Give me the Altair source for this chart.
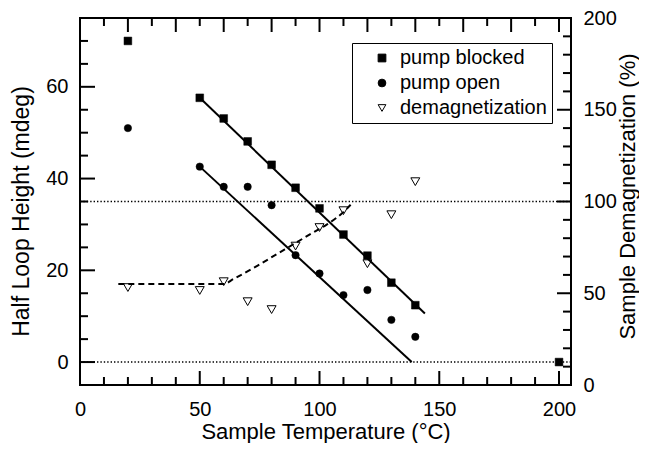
import altair as alt
import pandas as pd

# ---------------- data ----------------
temps_blocked = [20, 50, 60, 70, 80, 90, 100, 110, 120, 130, 140, 200]
loop_blocked = [70.0, 57.6, 53.1, 48.1, 43.0, 38.0, 33.5, 27.8, 23.2, 17.3, 12.4, 0.0]

temps_open = [20, 50, 60, 70, 80, 90, 100, 110, 120, 130, 140]
loop_open = [51.0, 42.6, 38.2, 38.2, 34.2, 23.3, 19.3, 14.6, 15.7, 9.2, 5.5]

temps_demag = [20, 50, 60, 70, 80, 90, 100, 110, 120, 130, 140]
demag_pct = [53.1, 51.5, 56.3, 45.4, 41.1, 75.7, 85.8, 95.0, 66.1, 92.8, 110.8]

fit_blocked_t = [50, 144]
fit_blocked_v = [57.6, 10.6]
fit_open_t = [50, 138.5]
fit_open_v = [42.6, 0.0]

guide_t = [16, 60, 64, 74, 82, 89, 97, 103, 111, 113]
guide_p = [55.0, 55.0, 57.7, 64.9, 71.2, 76.6, 82.9, 87.4, 95.5, 98.2]

ref_levels_left = [0, 35]

series_names = ["pump blocked", "pump open", "demagnetization"]
series_shapes = ["square", "circle", "triangle-down"]
series_fills = ["black", "black", "white"]
series_strokes = ["black", "black", "black"]

x_labels = [0, 50, 100, 150, 200]
x_minor = [10, 20, 30, 40, 60, 70, 80, 90, 110, 120, 130, 140, 160, 170, 180, 190]
top_major = [20, 40, 60, 80, 100, 120, 140, 160, 180, 200]
top_minor = [10, 30, 50, 70, 90, 110, 130, 150, 170, 190]
left_labels = [0, 20, 40, 60]
left_minor = [5, 10, 15, 25, 30, 35, 45, 50, 55, 65, 70]
right_labels = [0, 50, 100, 150, 200]
right_major = [50, 100, 150]
right_minor = [10, 20, 30, 40, 60, 70, 80, 90, 110, 120, 130, 140, 160, 170, 180, 190]

# ---------------- chart ----------------
W, H = 491, 367
FONT = "Liberation Sans"
MAJ, MIN = 14, 8

xscale = alt.Scale(domain=[0, 205], nice=False, zero=False)
yl = alt.Scale(domain=[-5, 75], nice=False, zero=False)
yr = alt.Scale(domain=[0, 200], nice=False, zero=False)
shape_scale = alt.Scale(domain=series_names, range=series_shapes)
fill_scale = alt.Scale(domain=series_names, range=series_fills)
stroke_scale = alt.Scale(domain=series_names, range=series_strokes)

legend = alt.Legend(
    title=None, orient="none", legendX=272, legendY=25,
    strokeColor="black", padding=5, rowPadding=5,
    labelFont=FONT, labelFontSize=20, labelColor="black", labelOffset=8,
    symbolSize=60, symbolStrokeWidth=1, symbolOffset=15,
)

x_axis = alt.Axis(values=x_labels, title="Sample Temperature (°C)",
                  labelPadding=14, titleY=36, titleFontSize=22, labelFlush=False)
left_axis = alt.Axis(values=left_labels, title="Half Loop Height (mdeg)",
                     orient="left", labelPadding=12, titlePadding=12,
                     titleFontSize=23, titleBaseline="bottom", titleY=193,
                     labelFlush=False)
right_axis = alt.Axis(values=right_labels, title="Sample Demagnetization (%)",
                      orient="right", labelPadding=12, titlePadding=1,
                      titleFontSize=22, titleAngle=270, titleBaseline="top",
                      titleY=178, labelFlush=False)


def X():
    return alt.X("t:Q", scale=xscale, axis=x_axis)


def xticks(vals, length, top=False):
    df = pd.DataFrame({"t": vals})
    y0, y1 = (0, length) if top else (H, H - length)
    return alt.Chart(df).mark_rule(color="black", strokeWidth=2).encode(
        x=X(), y=alt.value(y0), y2=alt.value(y1))


def yticks(vals, length, scale, right=False):
    df = pd.DataFrame({"v": vals})
    x0, x1 = (W, W - length) if right else (0, length)
    return alt.Chart(df).mark_rule(color="black", strokeWidth=2).encode(
        y=alt.Y("v:Q", scale=scale, axis=None), x=alt.value(x0), x2=alt.value(x1))


dotted = alt.Chart(pd.DataFrame({"v": ref_levels_left})).mark_rule(
    color="black", strokeWidth=1.5, strokeDash=[1.4, 2]).encode(
    y=alt.Y("v:Q", scale=yl, axis=None), x=alt.value(0), x2=alt.value(W))

fit_b = alt.Chart(pd.DataFrame({"t": fit_blocked_t, "v": fit_blocked_v})).mark_line(
    color="black", strokeWidth=2).encode(
    x=X(), y=alt.Y("v:Q", scale=yl, axis=None))
fit_o = alt.Chart(pd.DataFrame({"t": fit_open_t, "v": fit_open_v})).mark_line(
    color="black", strokeWidth=2).encode(
    x=X(), y=alt.Y("v:Q", scale=yl, axis=None))
guide = alt.Chart(pd.DataFrame({"t": guide_t, "p": guide_p})).mark_line(
    color="black", strokeWidth=2, strokeDash=[6, 4], interpolate="monotone").encode(
    x=X(), y=alt.Y("p:Q", scale=yr, axis=None))

df_b = pd.DataFrame({"t": temps_blocked, "v": loop_blocked, "series": "pump blocked"})
df_o = pd.DataFrame({"t": temps_open, "v": loop_open, "series": "pump open"})
df_d = pd.DataFrame({"t": temps_demag, "p": demag_pct, "series": "demagnetization"})


def series_enc():
    return dict(
        shape=alt.Shape("series:N", scale=shape_scale, legend=legend),
        fill=alt.Fill("series:N", scale=fill_scale, legend=legend),
        stroke=alt.Stroke("series:N", scale=stroke_scale, legend=legend),
    )


pts_b = alt.Chart(df_b).mark_point(filled=True, size=60, strokeWidth=0.5, opacity=1).encode(
    x=X(), y=alt.Y("v:Q", scale=yl, axis=left_axis), **series_enc())
pts_o = alt.Chart(df_o).mark_point(filled=True, size=55, strokeWidth=0.5, opacity=1).encode(
    x=X(), y=alt.Y("v:Q", scale=yl, axis=None), **series_enc())
pts_d = alt.Chart(df_d).mark_point(filled=True, size=80, strokeWidth=1, opacity=1).encode(
    x=X(), y=alt.Y("p:Q", scale=yr, axis=right_axis), **series_enc())

chart = alt.layer(
    pts_b, pts_d, dotted,
    xticks(x_labels, MAJ), xticks(x_minor, MIN),
    xticks(top_major, MAJ, top=True), xticks(top_minor, MIN, top=True),
    yticks(left_labels, 15, yl), yticks(left_minor, MIN, yl),
    yticks(right_major, MAJ, yr, right=True), yticks(right_minor, MIN, yr, right=True),
    fit_b, fit_o, guide, pts_o,
).resolve_scale(y="independent").properties(
    width=W, height=H,
    padding={"left": 72, "top": 10, "right": 68, "bottom": 58},
    autosize=alt.AutoSizeParams(type="none"),
).configure_axis(
    labelFont=FONT, titleFont=FONT, labelFontSize=20, titleFontSize=22,
    titleFontWeight="normal", labelColor="black", titleColor="black",
    grid=False, domain=False, ticks=False, labelOverlap=False,
).configure_view(stroke="black", strokeWidth=2)

chart.save("out.html", embed_options={"renderer": "svg", "actions": False})
